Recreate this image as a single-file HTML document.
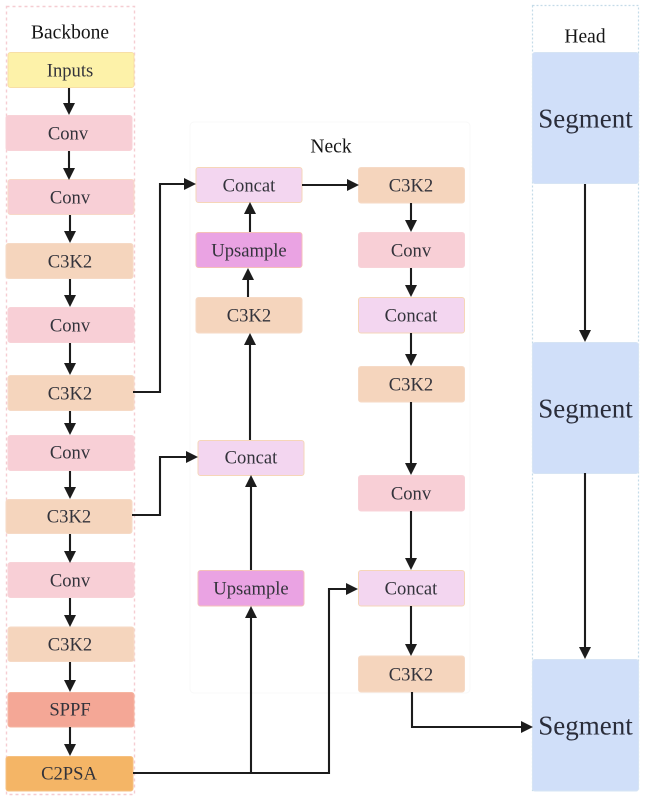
<!DOCTYPE html>
<html>
<head>
<meta charset="utf-8">
<style>
html,body{margin:0;padding:0;background:#fff}
svg{display:block;filter:blur(.35px)}
text{font-family:"Liberation Serif",serif;fill:#33333b;text-anchor:middle}
.t{font-size:18.6px}
.h{font-size:19.5px;fill:#151515;-webkit-text-stroke:.4px #151515}
.s{font-size:27px;fill:#2a2d3a}
.l{fill:none;stroke:#1c1c1c;stroke-width:2.1}
.a{fill:#1c1c1c}
</style>
</head>
<body>
<svg width="646" height="802" viewBox="0 0 646 802" xmlns="http://www.w3.org/2000/svg">
<!-- containers -->
<rect x="6.5" y="6.5" width="128" height="788" fill="none" stroke="#f5cdd2" stroke-width="1.4" stroke-dasharray="3 3"/>
<rect x="532.5" y="5.5" width="106" height="785" fill="none" stroke="#c4dbe8" stroke-width="1.2" stroke-dasharray="2 2"/>
<rect x="190" y="122" width="280" height="571" rx="4" fill="none" stroke="#f8f8f8" stroke-width="1"/>

<!-- backbone nodes -->
<g stroke-width="1">
<rect x="8" y="52.5" width="126" height="35" rx="2.5" fill="#fdf2a9" stroke="#f8dfa6"/>
<rect x="6" y="115.5" width="126" height="35" rx="2.5" fill="#f8cfd6" stroke="#f8d3d8"/>
<rect x="8" y="179.5" width="126" height="35" rx="2.5" fill="#f8cfd6" stroke="#f8d8c8"/>
<rect x="6" y="243.5" width="127" height="35" rx="2.5" fill="#f5d5bd" stroke="#f6dac6"/>
<rect x="8" y="307.5" width="126" height="35" rx="2.5" fill="#f8cfd6" stroke="#f8d3d8"/>
<rect x="8" y="375.5" width="126" height="35" rx="2.5" fill="#f5d5bd" stroke="#f6dac6"/>
<rect x="8" y="435.5" width="126" height="35" rx="2.5" fill="#f8cfd6" stroke="#f8d3d8"/>
<rect x="6" y="499.5" width="126" height="34" rx="2.5" fill="#f5d5bd" stroke="#f6dac6"/>
<rect x="8" y="562.5" width="126" height="35" rx="2.5" fill="#f8cfd6" stroke="#f8d3d8"/>
<rect x="8" y="627" width="126" height="34.5" rx="2.5" fill="#f5d5bd" stroke="#f6dac6"/>
<rect x="8" y="692.5" width="126" height="34.5" rx="2.5" fill="#f4a796" stroke="#f6b5a0"/>
<rect x="6" y="756.5" width="127" height="34.5" rx="2.5" fill="#f4b566" stroke="#f6c080"/>

<!-- neck nodes -->
<rect x="196" y="167.5" width="106" height="35" rx="2.5" fill="#f3d6f0" stroke="#f6d6b8"/>
<rect x="196" y="232.5" width="106" height="35" rx="2.5" fill="#eaa3e3" stroke="#f4c0b8"/>
<rect x="196" y="297.5" width="106" height="35.5" rx="2.5" fill="#f5d5bd" stroke="#f6dac6"/>
<rect x="198" y="440.5" width="106" height="35" rx="2.5" fill="#f3d6f0" stroke="#f6d6b8"/>
<rect x="198" y="570.5" width="106" height="35.5" rx="2.5" fill="#eaa3e3" stroke="#f4c0b8"/>
<rect x="358.5" y="167.5" width="106" height="35.5" rx="2.5" fill="#f5d5bd" stroke="#f6dac6"/>
<rect x="358.5" y="232.5" width="106" height="35" rx="2.5" fill="#f8cfd6" stroke="#f8d3d8"/>
<rect x="358.5" y="297.5" width="106" height="35.5" rx="2.5" fill="#f3d6f0" stroke="#f6d6b8"/>
<rect x="358.5" y="366.5" width="106" height="35.5" rx="2.5" fill="#f5d5bd" stroke="#f6dac6"/>
<rect x="358.5" y="475.5" width="106" height="35.5" rx="2.5" fill="#f8cfd6" stroke="#f8d3d8"/>
<rect x="358.5" y="570.5" width="106" height="35.5" rx="2.5" fill="#f3d6f0" stroke="#f6d6b8"/>
<rect x="358.5" y="656" width="106" height="36" rx="2.5" fill="#f5d5bd" stroke="#f6dac6"/>

<!-- head nodes -->
<rect x="532.5" y="52.5" width="106" height="131" rx="2.5" fill="#d0dff9" stroke="#d6e4f4"/>
<rect x="532.5" y="342.5" width="106" height="131" rx="2.5" fill="#d0dff9" stroke="#d6e4f4"/>
<rect x="532.5" y="659.5" width="106" height="131.5" rx="2.5" fill="#d0dff9" stroke="#d6e4f4"/>
</g>

<!-- connectors -->
<g class="l">
<path d="M69 88V106"/><path d="M69 151V171"/><path d="M70 215V234"/><path d="M70 279V298"/>
<path d="M70 343V366"/><path d="M70 411V426"/><path d="M70 471V490"/><path d="M70 534V554"/>
<path d="M70 598V618"/><path d="M70 662V683"/><path d="M70 727V747"/>
<path d="M133 392H160V184H188"/>
<path d="M132 515H160V457H190"/>
<path d="M133 773H329V589H350"/>
<path d="M251 773V614"/>
<path d="M251 570V484"/>
<path d="M250 440V342"/>
<path d="M248 297V276"/>
<path d="M250 232V211"/>
<path d="M302 185H350"/>
<path d="M411 203V224"/><path d="M411 268V289"/><path d="M411 333V358"/>
<path d="M411 402V467"/><path d="M411 511V562"/><path d="M411 606V648"/>
<path d="M412 692V727H524"/>
<path d="M585 184V333"/><path d="M585 473V650"/>
</g>
<g class="a">
<path d="M63 103H75L69 115Z"/><path d="M63 168H75L69 180Z"/><path d="M64 231H76L70 243Z"/><path d="M64 295H76L70 307Z"/>
<path d="M64 363H76L70 375Z"/><path d="M64 423H76L70 435Z"/><path d="M64 487H76L70 499Z"/><path d="M64 551H76L70 563Z"/>
<path d="M64 615H76L70 627Z"/><path d="M64 680H76L70 692Z"/><path d="M64 744H76L70 756Z"/>
<path d="M184 178V190L196 184Z"/><path d="M186 451V463L198 457Z"/><path d="M346 583V595L358 589Z"/>
<path d="M245 618H257L251 606Z"/><path d="M245 487H257L251 475Z"/><path d="M244 345H256L250 333Z"/>
<path d="M242 280H254L248 268Z"/><path d="M244 214H256L250 202Z"/>
<path d="M347 179V191L359 185Z"/>
<path d="M405 220H417L411 232Z"/><path d="M405 285H417L411 297Z"/><path d="M405 354H417L411 366Z"/>
<path d="M405 463H417L411 475Z"/><path d="M405 558H417L411 570Z"/><path d="M405 644H417L411 656Z"/>
<path d="M521 721V733L533 727Z"/>
<path d="M579 330H591L585 342Z"/><path d="M579 647H591L585 659Z"/>
</g>

<!-- labels -->
<g transform="translate(0 .7)">
<text class="h" x="70" y="38">Backbone</text>
<text class="h" x="331" y="152">Neck</text>
<text class="h" x="585" y="42">Head</text>

<text class="t" x="70" y="76">Inputs</text>
<text class="t" x="68" y="139">Conv</text>
<text class="t" x="70" y="203">Conv</text>
<text class="t" x="70" y="267">C3K2</text>
<text class="t" x="70" y="331">Conv</text>
<text class="t" x="70" y="399">C3K2</text>
<text class="t" x="70" y="458">Conv</text>
<text class="t" x="69" y="522">C3K2</text>
<text class="t" x="70" y="586">Conv</text>
<text class="t" x="70" y="650">C3K2</text>
<text class="t" x="70" y="715">SPPF</text>
<text class="t" x="69" y="779">C2PSA</text>

<text class="t" x="249" y="191">Concat</text>
<text class="t" x="249" y="256">Upsample</text>
<text class="t" x="249" y="321">C3K2</text>
<text class="t" x="251" y="463">Concat</text>
<text class="t" x="251" y="594">Upsample</text>

<text class="t" x="411" y="191">C3K2</text>
<text class="t" x="411" y="256">Conv</text>
<text class="t" x="411" y="321">Concat</text>
<text class="t" x="411" y="390">C3K2</text>
<text class="t" x="411" y="499">Conv</text>
<text class="t" x="411" y="594">Concat</text>
<text class="t" x="411" y="680">C3K2</text>

<text class="s" x="585.5" y="127">Segment</text>
<text class="s" x="585.5" y="417">Segment</text>
<text class="s" x="585.5" y="734">Segment</text>
</g>
</svg>
</body>
</html>
